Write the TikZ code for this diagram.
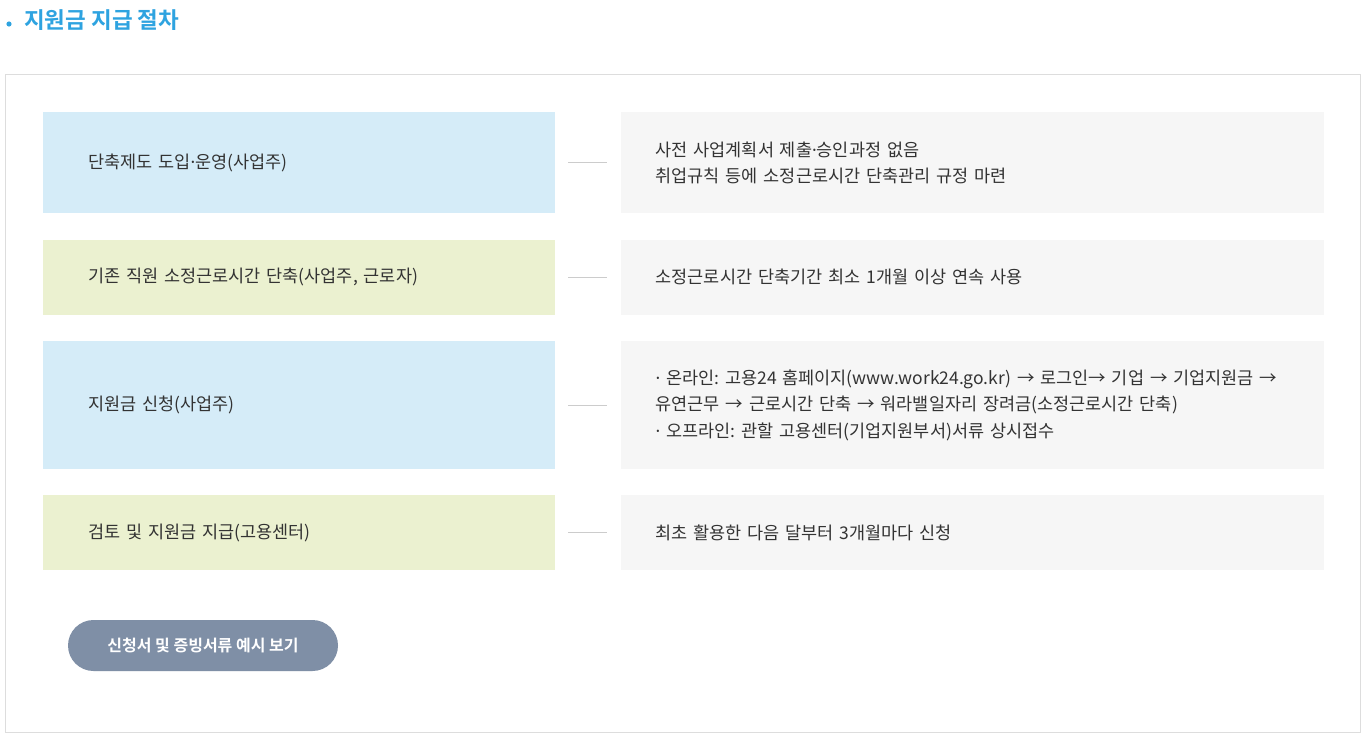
\documentclass[tikz,border=0pt]{standalone}
\usepackage{fontspec}
\setmainfont{Noto Sans CJK KR}[BoldFont={Noto Sans CJK KR Bold}]
\newfontfamily\dotfont{Noto Sans}
\newcommand{\middot}{{\dotfont ·}}
\frenchspacing
\usetikzlibrary{positioning}
\definecolor{stepblue}{RGB}{213,236,248}
\definecolor{stepgreen}{RGB}{235,241,208}
\definecolor{notegray}{RGB}{246,246,246}
\definecolor{txtgray}{RGB}{51,51,51}
\definecolor{titleblue}{RGB}{46,163,224}
\definecolor{btngray}{RGB}{127,143,166}
\definecolor{framegray}{RGB}{221,221,221}
\definecolor{linegray}{RGB}{204,204,204}
\tikzstyle{stepbox}=[rectangle,inner xsep=45pt,inner ysep=0pt,text width=422pt,align=left,text=txtgray,font=\fontsize{17.5pt}{26.5pt}\selectfont]
\tikzstyle{notebox}=[rectangle,fill=notegray,inner xsep=35pt,inner ysep=0pt,text width=633pt,align=left,text=txtgray,font=\fontsize{17.5pt}{26.5pt}\selectfont]
\tikzstyle{link}=[draw=linegray,line width=1pt]

\begin{document}
\begin{tikzpicture}[x=1pt,y=-1pt]
    \useasboundingbox[fill=white] (0,0) rectangle (1364,736);
    % title
    \fill[titleblue] (9,24) circle (2.6pt);
    \node[anchor=west,inner sep=0pt,text=titleblue,font=\fontsize{22.5pt}{26pt}\selectfont\bfseries] (title) at (24,20) {지원금 지급 절차};
    \draw[framegray,line width=1pt] (5.5,74.5) rectangle (1360.5,732.5);
    % steps
    \node[stepbox,fill=stepblue,minimum height=101pt,anchor=north west] (s1) at (43,112) {단축제도 도입\middot 운영(사업주)};
    \node[stepbox,fill=stepgreen,minimum height=75pt,below=26pt of s1] (s2) {기존 직원 소정근로시간 단축(사업주, 근로자)};
    \node[stepbox,fill=stepblue,minimum height=128pt,below=26pt of s2] (s3) {지원금 신청(사업주)};
    \node[stepbox,fill=stepgreen,minimum height=75pt,below=26pt of s3] (s4) {검토 및 지원금 지급(고용센터)};
    % notes
    \node[notebox,minimum height=101pt,right=65pt of s1] (n1) {사전 사업계획서 제출\middot 승인과정 없음\\취업규칙 등에 소정근로시간 단축관리 규정 마련};
    \node[notebox,minimum height=75pt,right=65pt of s2] (n2) {소정근로시간 단축기간 최소 1개월 이상 연속 사용};
    \node[notebox,minimum height=128pt,right=65pt of s3] (n3) {\middot\ 온라인: 고용24 홈페이지(www.work24.go.kr) → 로그인→ 기업 → 기업지원금 →\\유연근무 → 근로시간 단축 → 워라밸일자리 장려금(소정근로시간 단축)\\\middot\ 오프라인: 관할 고용센터(기업지원부서)서류 상시접수};
    \node[notebox,minimum height=75pt,right=65pt of s4] (n4) {최초 활용한 다음 달부터 3개월마다 신청};
    \foreach \i in {1,...,4}
        \draw[link] ([xshift=13pt]s\i.east) -- ([xshift=-13pt]n\i.west);
    % button
    \node[fill=btngray,rounded corners=25.5pt,minimum width=270pt,minimum height=51pt,inner sep=0pt,text=white,font=\fontsize{16pt}{19pt}\selectfont\bfseries] (btn) at (203,645.5) {신청서 및 증빙서류 예시 보기};
\end{tikzpicture}
\end{document}
